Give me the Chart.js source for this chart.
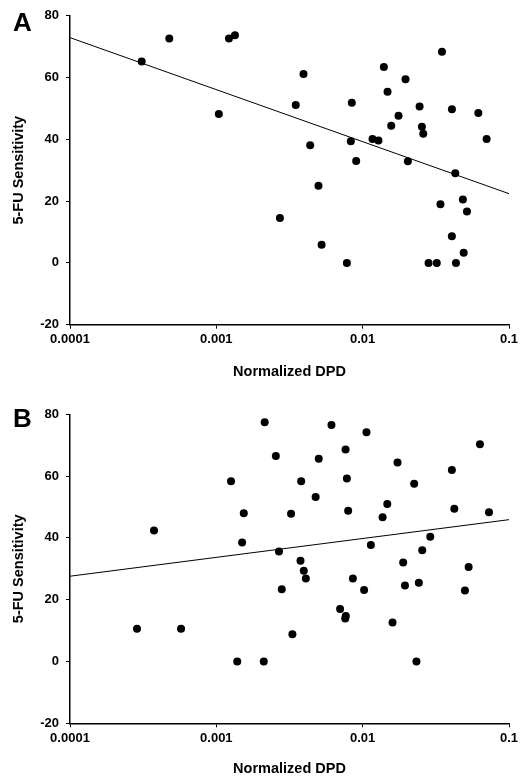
<!DOCTYPE html>
<html>
<head>
<meta charset="utf-8">
<script src="https://cdn.jsdelivr.net/npm/chart.js@4.4.1/dist/chart.umd.min.js"></script>
<style>
  body { margin: 0; background: #fff; }
  #wrap { position: relative; width: 526px; height: 778px; }
  canvas { position: absolute; left: 0; }
</style>
</head>
<body>
<div id="wrap">
  <canvas id="graficoA" width="526" height="389" style="top:0"></canvas>
  <canvas id="graficoB" width="526" height="389" style="top:389px"></canvas>
</div>
<script>
// painel A
var dpdA = [0.000309, 0.000477, 0.00104, 0.00122, 0.00134, 0.00349, 0.00394, 0.00438, 0.00499, 0.00843,
    0.0083, 0.00903, 0.01167, 0.01282, 0.01396, 0.01479, 0.01567, 0.01758, 0.01963, 0.02037,
    0.02449, 0.02541, 0.02594, 0.03483, 0.04074, 0.04295, 0.0617, 0.0703, 0.00272, 0.00524,
    0.0078, 0.0282, 0.0321, 0.034, 0.0407, 0.0434, 0.0484, 0.049, 0.0516]
var sensA = [65.2, 72.6, 48.2, 72.6, 73.7, 51.1, 61.1, 38.1, 25, 51.8,
    39.4, 33.0, 40.1, 39.6, 63.4, 55.4, 44.4, 47.6, 59.4, 32.9,
    50.6, 44.1, 41.8, 68.3, 49.7, 29.0, 48.5, 40.1, 14.5, 5.9,
    0, 0, 0, 19.0, 8.6, 0, 20.5, 3.3, 16.6]
var fitA = [72.9, 22.4]

// painel B
var dpdB = [0.000375, 0.00126, 0.00154, 0.0015, 0.00214, 0.00255, 0.00268, 0.00324, 0.0038, 0.00376,
    0.00396, 0.00477, 0.00501, 0.00612, 0.00764, 0.0078, 0.00796, 0.01062, 0.01138, 0.01368,
    0.01473, 0.0173, 0.01892, 0.02249, 0.02553, 0.02897, 0.0407, 0.0423, 0.053, 0.0633,
    0.073, 0.000287, 0.000574, 0.00139, 0.00211, 0.0028, 0.00331, 0.00409, 0.00701, 0.00767,
    0.0076, 0.00857, 0.01023, 0.016, 0.01946, 0.0242, 0.0233, 0.05]
var sensB = [42.4, 58.3, 48.0, 38.5, 77.4, 66.5, 35.6, 47.8, 58.3, 32.6,
    29.4, 53.2, 65.6, 76.5, 68.6, 59.2, 48.8, 74.2, 37.7, 46.7,
    51.0, 64.4, 32.0, 57.5, 36.0, 40.4, 62.0, 49.4, 30.6, 70.3,
    48.3, 10.6, 10.6, 0, 0, 23.4, 8.8, 26.9, 17.0, 14.7,
    13.9, 26.9, 23.1, 12.6, 24.6, 25.5, 0, 23.0]
var fitB = [27.6, 45.9]

var xTicks = [0.0001, 0.001, 0.01, 0.1]
var yTicks = [-20, 0, 20, 40, 60, 80]

var fonteTick = { family: 'Liberation Sans, Arial, sans-serif', size: 13, weight: 'bold' }
var fonteTitulo = { family: 'Liberation Sans, Arial, sans-serif', size: 14.5, weight: 'bold' }

function montarPontos(xs, ys) {
    var pontos = []
    for (var i = 0; i < xs.length; i++) {
        pontos.push({ x: xs[i], y: ys[i] })
    }
    return pontos
}

function criarGrafico(idCanvas, letra, xs, ys, fit, cfg) {
    var pluginLetra = {
        id: 'letra',
        afterDraw: function (chart) {
            var ctx = chart.ctx
            ctx.save()
            ctx.fillStyle = '#000'
            ctx.font = 'bold 26px Liberation Sans, Arial, sans-serif'
            ctx.textBaseline = 'alphabetic'
            ctx.fillText(letra, 13, cfg.baseLetra)
            ctx.restore()
        }
    }

    return new Chart(document.getElementById(idCanvas).getContext('2d'), {
        type: 'scatter',
        data: {
            datasets: [{
                data: montarPontos(xs, ys),
                pointRadius: 4,
                pointHoverRadius: 4,
                pointBackgroundColor: '#000',
                pointBorderWidth: 0,
                showLine: false
            }, {
                data: [{ x: xTicks[0], y: fit[0] }, { x: xTicks[xTicks.length - 1], y: fit[1] }],
                showLine: true,
                borderColor: '#000',
                borderWidth: 1,
                pointRadius: 0
            }]
        },
        options: {
            responsive: false,
            animation: false,
            layout: { padding: { left: 0, right: 17, top: cfg.topo, bottom: 0 } },
            plugins: { legend: { display: false }, tooltip: { enabled: false } },
            scales: {
                x: {
                    type: 'logarithmic',
                    min: xTicks[0],
                    max: xTicks[xTicks.length - 1],
                    afterBuildTicks: function (scale) {
                        scale.ticks = xTicks.map(function (v) { return { value: v } })
                    },
                    afterFit: function (scale) { scale.height = cfg.alturaX },
                    ticks: {
                        color: '#000',
                        font: fonteTick,
                        padding: 3,
                        autoSkip: false,
                        maxRotation: 0,
                        callback: function (v) { return String(v) }
                    },
                    grid: { drawOnChartArea: false, drawTicks: true, tickLength: 4, tickColor: '#000' },
                    border: { color: '#000', width: 1.5 },
                    title: {
                        display: true,
                        text: 'Normalized DPD',
                        color: '#000',
                        font: fonteTitulo,
                        padding: { top: 0, bottom: cfg.padTituloX }
                    }
                },
                y: {
                    min: yTicks[0],
                    max: yTicks[yTicks.length - 1],
                    afterBuildTicks: function (scale) {
                        scale.ticks = yTicks.map(function (v) { return { value: v } })
                    },
                    afterFit: function (scale) { scale.width = 70 },
                    ticks: { color: '#000', font: fonteTick, padding: 7 },
                    grid: { drawOnChartArea: false, drawTicks: true, tickLength: 4, tickColor: '#000' },
                    border: { color: '#000', width: 1.5 },
                    title: {
                        display: true,
                        text: '5-FU Sensitivity',
                        color: '#000',
                        font: fonteTitulo,
                        padding: { top: 10.5, bottom: 0 }
                    }
                }
            }
        },
        plugins: [pluginLetra]
    })
}

var graficoA = criarGrafico('graficoA', 'A', dpdA, sensA, fitA, { topo: 15.7, alturaX: 64.3, padTituloX: 8.3, baseLetra: 31 })
var graficoB = criarGrafico('graficoB', 'B', dpdB, sensB, fitB, { topo: 25.3, alturaX: 54.7, padTituloX: 0, baseLetra: 38 })
</script>
</body>
</html>
